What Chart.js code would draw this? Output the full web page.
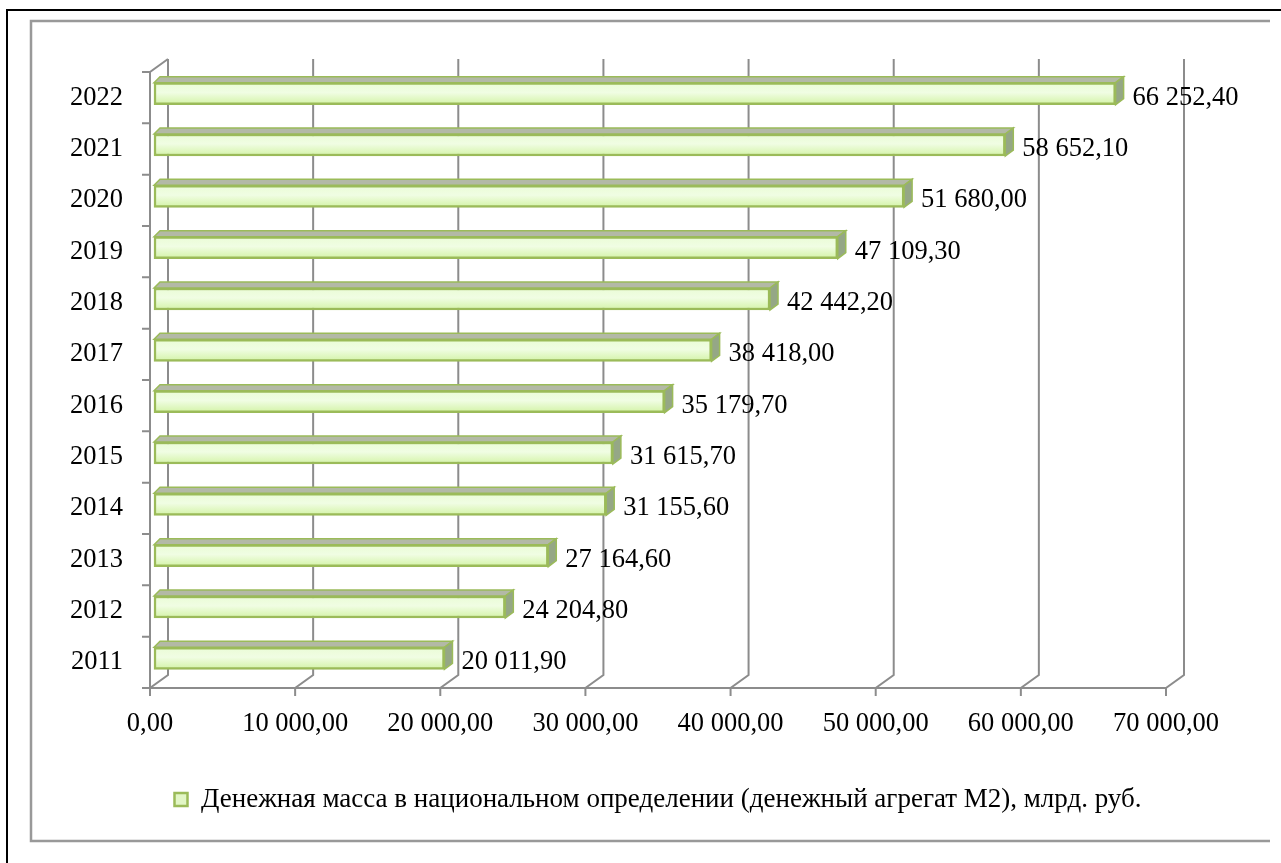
<!DOCTYPE html>
<html>
<head>
<meta charset="utf-8">
<script src="https://cdn.jsdelivr.net/npm/chart.js@4/dist/chart.umd.min.js"></script>
<style>
  html, body { margin: 0; padding: 0; background: #fff; }
</style>
</head>
<body>
<canvas id="chart" width="1281" height="863"></canvas>
<script>
const years = ["2011", "2012", "2013", "2014", "2015", "2016", "2017", "2018", "2019", "2020", "2021", "2022"];
const moneySupply = [20011.9, 24204.8, 27164.6, 31155.6, 31615.7, 35179.7, 38418.0, 42442.2, 47109.3, 51680.0, 58652.1, 66252.4];
const xTicks = [0, 10000, 20000, 30000, 40000, 50000, 60000, 70000];
const seriesName = "Денежная масса в национальном определении (денежный агрегат М2), млрд. руб.";

const FONT = "'Liberation Serif', 'Times New Roman', serif";
const GRID = "#8c8c8c";
// depth of the back wall and of the bars
const DX = 18, DY = 13;
const BX = 8, BY = 6;

function fmt(v) {
  const [i, d] = v.toFixed(2).split(".");
  return i.replace(/\B(?=(\d{3})+(?!\d))/g, " ") + "," + d;
}

// frame around the picture
const frame = {
  id: "frame",
  beforeDraw(chart) {
    const ctx = chart.ctx;
    ctx.save();
    ctx.strokeStyle = "#000";
    ctx.lineWidth = 2;
    ctx.beginPath();
    ctx.moveTo(7, 863); ctx.lineTo(7, 10); ctx.lineTo(1281, 10);
    ctx.stroke();
    ctx.strokeStyle = "#999";
    ctx.lineWidth = 2.5;
    ctx.beginPath();
    ctx.moveTo(1270, 21); ctx.lineTo(31, 21); ctx.lineTo(31, 841); ctx.lineTo(1270, 841);
    ctx.stroke();
    ctx.restore();
  }
};

// walls, floor and axes of the 3d box + bar top/side faces
const box3d = {
  id: "box3d",
  beforeDatasetsDraw(chart) {
    const { ctx, chartArea: a, scales: { x } } = chart;
    ctx.save();
    ctx.strokeStyle = GRID;
    ctx.lineWidth = 2;
    ctx.beginPath();
    xTicks.forEach((v) => {
      const p = x.getPixelForValue(v);
      ctx.moveTo(p + DX, a.top - DY);
      ctx.lineTo(p + DX, a.bottom - DY);
      ctx.lineTo(p, a.bottom);
      ctx.lineTo(p, a.bottom + 8);
    });
    ctx.moveTo(a.left + DX, a.top - DY);
    ctx.lineTo(a.left, a.top);
    ctx.lineTo(a.left, a.bottom);
    ctx.lineTo(a.right, a.bottom);
    const n = years.length;
    for (let i = 0; i <= n; i++) {
      const yy = a.top + (i * (a.bottom - a.top)) / n;
      ctx.moveTo(a.left - 8, yy);
      ctx.lineTo(a.left, yy);
    }
    ctx.stroke();
    ctx.restore();

    ctx.save();
    ctx.translate(4, -4);
  },
  afterDatasetsDraw(chart) {
    const ctx = chart.ctx;
    const bars = chart.getDatasetMeta(0).data;
    ctx.lineWidth = 1.5;
    ctx.strokeStyle = "#9bbb59";
    bars.forEach((bar) => {
      const { x, y, base, height } = bar.getProps(["x", "y", "base", "height"], true);
      const t = y - height / 2, b = y + height / 2;
      ctx.beginPath();
      ctx.moveTo(base, t);
      ctx.lineTo(base + 6, t - BY);
      ctx.lineTo(x + BX, t - BY);
      ctx.lineTo(x, t);
      ctx.closePath();
      ctx.fillStyle = "#b3b9a6";
      ctx.fill();
      ctx.stroke();
      ctx.beginPath();
      ctx.moveTo(x, t);
      ctx.lineTo(x + BX, t - BY);
      ctx.lineTo(x + BX, b - BY);
      ctx.lineTo(x, b);
      ctx.closePath();
      ctx.fillStyle = "#95a786";
      ctx.fill();
      ctx.stroke();
    });
    ctx.restore();

    ctx.save();
    ctx.font = "26.5px " + FONT;
    ctx.fillStyle = "#000";
    ctx.textAlign = "left";
    ctx.textBaseline = "middle";
    bars.forEach((bar, i) => {
      ctx.fillText(fmt(moneySupply[i]), bar.x + 21, bar.y);
    });
    ctx.restore();
  }
};

new Chart(document.getElementById("chart"), {
  type: "bar",
  data: {
    labels: years,
    datasets: [{
      label: seriesName,
      data: moneySupply,
      barThickness: 22,
      borderWidth: 2.5,
      borderSkipped: false,
      borderColor: "#9bbb59",
      backgroundColor(c) {
        const y = c.chart.scales.y;
        if (!y || c.type !== "data") return "#e6f8cc";
        const yc = y.getPixelForValue(c.dataIndex);
        const g = c.chart.ctx.createLinearGradient(0, yc - 11, 0, yc + 11);
        g.addColorStop(0, "#eafcd6");
        g.addColorStop(0.45, "#f0fde3");
        g.addColorStop(1, "#d3f3a6");
        return g;
      },
      clip: false
    }]
  },
  options: {
    indexAxis: "y",
    responsive: false,
    animation: false,
    layout: { padding: { left: 0, right: 115, top: 72, bottom: 40 } },
    font: { family: FONT },
    scales: {
      x: {
        min: 0,
        max: 70000,
        grid: { display: false, drawTicks: false },
        border: { display: false },
        afterBuildTicks(s) { s.ticks = xTicks.map((v) => ({ value: v })); },
        afterFit(s) { s.height = 88; },
        ticks: {
          padding: 20,
          color: "#000",
          font: { family: FONT, size: 26.5 },
          callback: (v) => fmt(v)
        }
      },
      y: {
        reverse: true,
        grid: { display: false, drawTicks: false },
        border: { display: false },
        afterFit(s) { s.width = 150; },
        ticks: {
          padding: 27,
          color: "#000",
          font: { family: FONT, size: 26.5 }
        }
      }
    },
    plugins: {
      tooltip: { enabled: false },
      legend: {
        position: "bottom",
        fullSize: false,
        labels: {
          color: "#000",
          font: { family: FONT, size: 27 },
          boxWidth: 13,
          boxHeight: 13,
          padding: 10,
          generateLabels: (chart) => [{
            text: chart.data.datasets[0].label,
            fillStyle: "#e2f6c6",
            strokeStyle: "#9bbb59",
            lineWidth: 2.5,
            datasetIndex: 0
          }]
        }
      }
    }
  },
  plugins: [frame, box3d]
});
</script>
</body>
</html>
